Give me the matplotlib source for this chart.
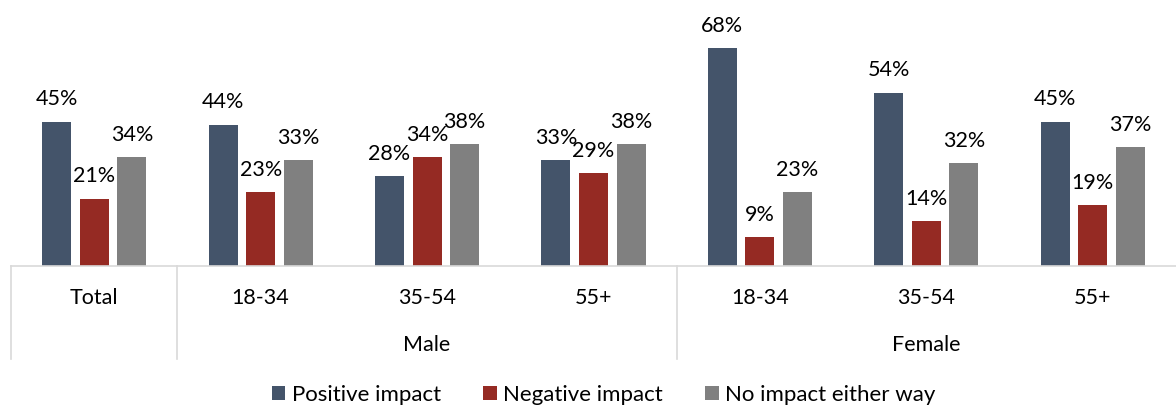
import matplotlib.pyplot as plt
import numpy as np

plt.rcParams['font.family'] = ['Lato', 'DejaVu Sans']

# Data
categories = ['Total', '18-34', '35-54', '55+', '18-34', '35-54', '55+']
groups = ['Male', 'Female']
series = ['Positive impact', 'Negative impact', 'No impact either way']
positive = [45, 44, 28, 33, 68, 54, 45]
negative = [21, 23, 34, 29, 9, 14, 19]
no_impact = [34, 33, 38, 38, 23, 32, 37]

colors = ['#44546A', '#952A23', '#808080']

W, H = 1176, 409
fig = plt.figure(figsize=(W / 100, H / 100), dpi=100)
ax = fig.add_axes([11 / W, (H - 266) / H, 1 - 11 / W, 266 / H])

x = np.arange(len(categories))
width = 0.174
offsets = [-0.226, 0, 0.226]
for vals, off, col, name in zip([positive, negative, no_impact], offsets, colors, series):
    bars = ax.bar(x + off, vals, width, color=col, label=name)
    for b, v in zip(bars, vals):
        ax.annotate(f'{v}%', (b.get_x() + b.get_width() / 2, v),
                    xytext=(0, 9), textcoords='offset points',
                    ha='center', va='bottom', fontsize=15.5)

ax.set_xlim(-0.5, len(categories) - 0.5)
ax.set_ylim(0, 83)
ax.set_yticks([])
ax.set_xticks([])
for s in ['top', 'right', 'left']:
    ax.spines[s].set_visible(False)
ax.spines['bottom'].set_color('#D9D9D9')
ax.spines['bottom'].set_linewidth(1.2)

# category labels
trans = ax.get_xaxis_transform()
for i, c in enumerate(categories):
    ax.annotate(c, (i, 0), xycoords=trans, xytext=(0, -23), textcoords='offset points',
                ha='center', va='center', fontsize=15.5, annotation_clip=False)
# group labels
for g, center in zip(groups, [2, 5]):
    ax.annotate(g, (center, 0), xycoords=trans, xytext=(0, -57), textcoords='offset points',
                ha='center', va='center', fontsize=15.5, annotation_clip=False)

# divider lines below the axis
for xd in [-0.5, 0.5, 3.5]:
    ax.plot([xd, xd], [0, -93 / 266], transform=trans, color='#D9D9D9',
            lw=1.2, clip_on=False)

fig.legend(loc='center', bbox_to_anchor=(604 / W, 1 - 395 / H), ncol=3, frameon=False,
           fontsize=16, handlelength=0.6, handleheight=0.6, handletextpad=0.3,
           columnspacing=1.9)

fig.savefig('out.png', dpi=100)
